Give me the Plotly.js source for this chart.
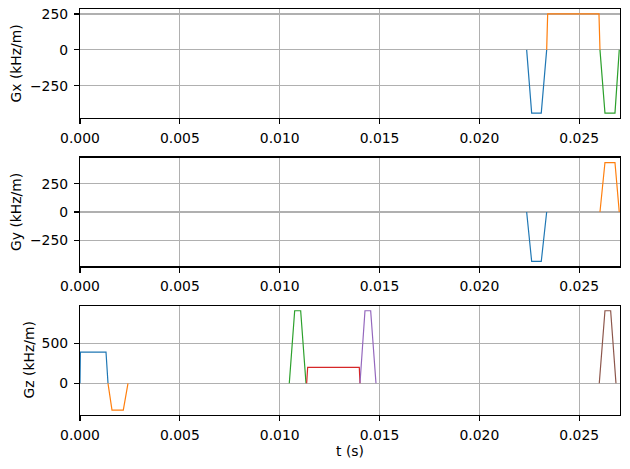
<!DOCTYPE html>
<html>
<head>
<meta charset="utf-8">
<script src="https://cdn.plot.ly/plotly-3.0.1.min.js"></script>
<style>html,body{margin:0;padding:0;background:#fff}#chart{width:630px;height:469px}</style>
</head>
<body>
<div id="chart"></div>
<script>
// ---- Data (time in s, amplitude in kHz/m) ----
const gxBlueT   = [0.022366, 0.022617, 0.023097, 0.023368];
const gxBlueV   = [0, -440, -440, 0];
const gxOrangeT = [0.023368, 0.023418, 0.025987, 0.026037];
const gxOrangeV = [0, 250, 250, 0];
const gxGreenT  = [0.026037, 0.026287, 0.026788, 0.027003];
const gxGreenV  = [0, -440, -440, 0];

const gyBlueT   = [0.022366, 0.022617, 0.023097, 0.023368];
const gyBlueV   = [0, -440, -440, 0];
const gyOrangeT = [0.026037, 0.026287, 0.026788, 0.027003];
const gyOrangeV = [0, 440, 440, 0];

const gzBlueT   = [0, 0.00002, 0.001302, 0.001402];
const gzBlueV   = [0, 391, 391, 0];
const gzOrangeT = [0.001402, 0.001602, 0.002168, 0.002403];
const gzOrangeV = [0, -334, -334, 0];
const gzGreenT  = [0.010480, 0.010750, 0.011050, 0.011316];
const gzGreenV  = [0, 907, 907, 0];
const gzRedT    = [0.011350, 0.011400, 0.013985, 0.014020];
const gzRedV    = [0, 200, 200, 0];
const gzPurpleT = [0.014020, 0.014270, 0.014555, 0.014821];
const gzPurpleV = [0, 907, 907, 0];
const gzBrownT  = [0.026002, 0.026287, 0.026572, 0.026838];
const gzBrownV  = [0, 907, 907, 0];

const xMax = 0.02704;
const xTickVals = [0, 0.005, 0.010, 0.015, 0.020, 0.025];
const gxTickVals = [-250, 0, 250];
const gyTickVals = [-250, 0, 250];
const gzTickVals = [0, 500];
const yTitles = ['Gx (kHz/m)', 'Gy (kHz/m)', 'Gz (kHz/m)'];
const xTitle = 't (s)';

// ---- Styling ----
const C = ['#1f77b4', '#ff7f0e', '#2ca02c', '#d62728', '#9467bd', '#8c564b'];
const LW = 1.2;
const FONT = {family: 'DejaVu Sans', size: 13.9, color: '#000'};

function tr(x, y, color, xa, ya) {
  return {x: x, y: y, type: 'scatter', mode: 'lines', xaxis: xa, yaxis: ya,
          line: {color: color, width: LW}, hoverinfo: 'skip', showlegend: false};
}

const traces = [
  tr(gxBlueT, gxBlueV, C[0], 'x', 'y'),
  tr(gxOrangeT, gxOrangeV, C[1], 'x', 'y'),
  tr(gxGreenT, gxGreenV, C[2], 'x', 'y'),
  tr(gyBlueT, gyBlueV, C[0], 'x2', 'y2'),
  tr(gyOrangeT, gyOrangeV, C[1], 'x2', 'y2'),
  tr(gzBlueT, gzBlueV, C[0], 'x3', 'y3'),
  tr(gzOrangeT, gzOrangeV, C[1], 'x3', 'y3'),
  tr(gzGreenT, gzGreenV, C[2], 'x3', 'y3'),
  tr(gzRedT, gzRedV, C[3], 'x3', 'y3'),
  tr(gzPurpleT, gzPurpleV, C[4], 'x3', 'y3'),
  tr(gzBrownT, gzBrownV, C[5], 'x3', 'y3')
];

function padRange(arrs) {
  let lo = Infinity, hi = -Infinity;
  arrs.forEach(a => a.forEach(v => { lo = Math.min(lo, v); hi = Math.max(hi, v); }));
  const m = (hi - lo) * 0.05;
  return [lo - m, hi + m];
}

function xax(anchor, domainY) {
  return {
    anchor: anchor, domain: [0, 1], range: [0, xMax],
    tickvals: xTickVals, tickformat: '.3f',
    showgrid: true, gridcolor: '#b0b0b0', gridwidth: 1.1,
    zeroline: false, showline: true, linecolor: '#000', linewidth: 1.1, mirror: true,
    ticks: 'outside', ticklen: 5, tickwidth: 1.1, tickcolor: '#000',
    tickfont: FONT, ticklabelstandoff: 2, fixedrange: true
  };
}
function yax(anchor, domain, range, tv) {
  return {
    anchor: anchor, domain: domain, range: range, tickvals: tv,
    showgrid: true, gridcolor: '#b0b0b0', gridwidth: 1.1,
    zeroline: false, showline: true, linecolor: '#000', linewidth: 1.1, mirror: true,
    ticks: 'outside', ticklen: 5, tickwidth: 1.1, tickcolor: '#000',
    tickfont: FONT, ticklabelstandoff: 3, fixedrange: true
  };
}

const dom1 = [0.7315, 1.0];
const dom2 = [0.366, 0.634];
const dom3 = [0.0, 0.269];

const layout = {
  width: 630, height: 469,
  margin: {l: 80, r: 10, t: 9, b: 54},
  paper_bgcolor: '#fff', plot_bgcolor: '#fff',
  font: FONT,
  showlegend: false,
  xaxis: xax('y'),
  xaxis2: xax('y2'),
  xaxis3: Object.assign(xax('y3'), {title: {text: xTitle, font: FONT, standoff: 4}}),
  yaxis: yax('x', dom1, padRange([gxBlueV, gxOrangeV, gxGreenV]), gxTickVals),
  yaxis2: yax('x2', dom2, padRange([gyBlueV, gyOrangeV]), gyTickVals),
  yaxis3: yax('x3', dom3, padRange([gzBlueV, gzOrangeV, gzGreenV, gzRedV, gzPurpleV, gzBrownV]), gzTickVals),
  annotations: [
    {text: yTitles[0], xref: 'paper', yref: 'paper', x: (16 - 80) / 540, y: (dom1[0] + dom1[1]) / 2,
     textangle: -90, showarrow: false, xanchor: 'center', yanchor: 'middle', font: FONT},
    {text: yTitles[1], xref: 'paper', yref: 'paper', x: (16 - 80) / 540, y: (dom2[0] + dom2[1]) / 2,
     textangle: -90, showarrow: false, xanchor: 'center', yanchor: 'middle', font: FONT},
    {text: yTitles[2], xref: 'paper', yref: 'paper', x: (29 - 80) / 540, y: (dom3[0] + dom3[1]) / 2,
     textangle: -90, showarrow: false, xanchor: 'center', yanchor: 'middle', font: FONT}
  ]
};

Plotly.newPlot('chart', traces, layout, {displayModeBar: false, staticPlot: true});
</script>
</body>
</html>
